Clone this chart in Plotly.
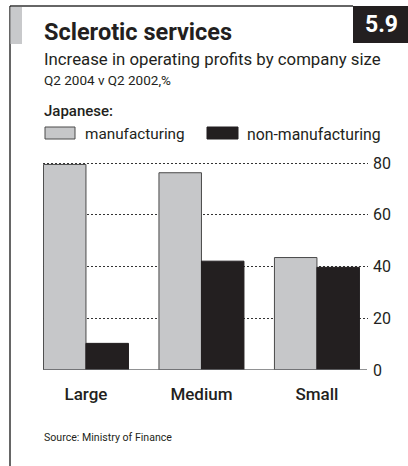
import plotly.graph_objects as go

categories = ["Large", "Medium", "Small"]
manufacturing = [79.5, 76.3, 43.5]
non_manufacturing = [10.3, 42.1, 39.7]
y_ticks = [0, 20, 40, 60, 80]
y_tick_labels = ["0", "20", "40", "60", "80"]

W, H = 408, 466
L, R, T, B = 43, 368, 158, 370  # plot area pixel box
FONT = "Roboto"
DARK = "#231f20"
GREY = "#c6c7c9"


def px(x):
    return (x - L) / (R - L)


def py(y):
    return (B - y) / (B - T)


fig = go.Figure()
fig.add_trace(go.Bar(x=categories, y=manufacturing, name="manufacturing",
                     marker=dict(color=GREY, line=dict(color="#4a4a4a", width=1))))
fig.add_trace(go.Bar(x=categories, y=non_manufacturing, name="non-manufacturing",
                     marker=dict(color=DARK, line=dict(color=DARK, width=1))))

shapes = []
# frame
shapes.append(dict(type="line", xref="paper", yref="paper", x0=px(10), x1=px(10), y0=py(6), y1=py(466),
                   line=dict(color="#333", width=1.5)))
shapes.append(dict(type="line", xref="paper", yref="paper", x0=px(10), x1=px(353), y0=py(6), y1=py(6),
                   line=dict(color="#333", width=1.5)))
shapes.append(dict(type="rect", xref="paper", yref="paper", x0=px(10.5), x1=px(22), y0=py(7), y1=py(44),
                   fillcolor="#c8c9cb", line=dict(width=0)))
shapes.append(dict(type="rect", xref="paper", yref="paper", x0=px(353), x1=px(410), y0=py(6), y1=py(43),
                   fillcolor=DARK, line=dict(width=0)))
# legend boxes
shapes.append(dict(type="rect", xref="paper", yref="paper", x0=px(45), x1=px(75), y0=py(127), y1=py(139),
                   fillcolor=GREY, line=dict(color="#4a4a4a", width=1)))
shapes.append(dict(type="rect", xref="paper", yref="paper", x0=px(207), x1=px(238), y0=py(127), y1=py(139),
                   fillcolor=DARK, line=dict(color=DARK, width=1)))
# baseline
shapes.append(dict(type="line", xref="paper", yref="y", x0=0, x1=px(367), y0=0, y1=0,
                   line=dict(color="#6d6e70", width=1.5)))

annotations = [
    dict(text="<b>Sclerotic services</b>", x=px(42), y=py(32), xanchor="left", yanchor="middle",
         font=dict(family=FONT, size=23.5, color=DARK)),
    dict(text="<b>5.9</b>", x=px(381), y=py(24), xanchor="center", yanchor="middle",
         font=dict(family=FONT, size=23, color="white")),
    dict(text="Increase in operating profits by company size", x=px(42), y=py(59), xanchor="left",
         yanchor="middle", font=dict(family=FONT, size=16.8, color=DARK)),
    dict(text="Q2 2004 v Q2 2002,%", x=px(42), y=py(80), xanchor="left", yanchor="middle",
         font=dict(family=FONT, size=13.5, color=DARK)),
    dict(text="Japanese:", x=px(42), y=py(111), xanchor="left", yanchor="middle",
         font=dict(family=FONT, size=15, color=DARK, weight=500)),
    dict(text="manufacturing", x=px(83), y=py(134), xanchor="left", yanchor="middle",
         font=dict(family=FONT, size=15.3, color=DARK)),
    dict(text="non-manufacturing", x=px(245), y=py(134), xanchor="left", yanchor="middle",
         font=dict(family=FONT, size=15.8, color=DARK)),
    dict(text="Source: Ministry of Finance", x=px(42), y=py(437), xanchor="left", yanchor="middle",
         font=dict(family=FONT, size=10.6, color=DARK)),
]
for a in annotations:
    a.update(xref="paper", yref="paper", showarrow=False)

fig.update_layout(
    width=W, height=H,
    margin=dict(l=L, r=W - R, t=T, b=H - B, pad=0),
    paper_bgcolor="white", plot_bgcolor="white",
    barmode="group", bargap=0.264, bargroupgap=0,
    showlegend=False,
    shapes=shapes, annotations=annotations,
    font=dict(family=FONT, color=DARK),
    xaxis=dict(range=[-0.372, 2.442], showgrid=False, zeroline=False, showline=False,
               ticks="", tickfont=dict(family=FONT, size=17, color=DARK, weight=500),
               ticklabelstandoff=12),
    yaxis=dict(range=[0, 82], side="right", tickvals=y_ticks, ticktext=y_tick_labels,
               showgrid=True, gridcolor="#333", griddash="2px,2px", gridwidth=1,
               zeroline=False, showline=False, ticks="",
               tickfont=dict(family=FONT, size=16, color=DARK), ticklabelstandoff=4),
)

fig.write_html("out.html", config={"displayModeBar": False},
               post_script="document.body.style.margin='0';document.body.style.overflow='hidden';")
